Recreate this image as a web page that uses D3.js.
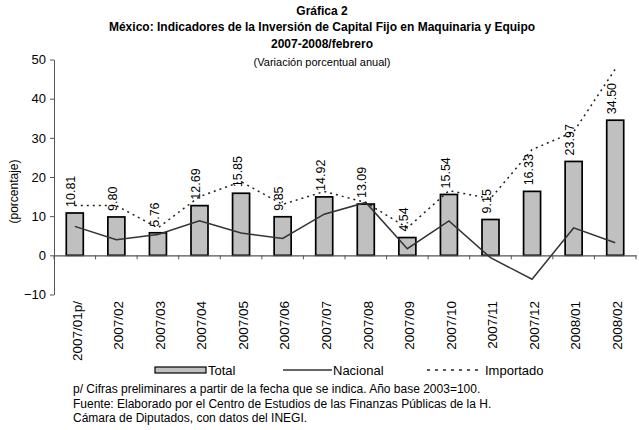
<!DOCTYPE html>
<html>
<head>
<meta charset="utf-8">
<script src="https://cdn.jsdelivr.net/npm/d3@7"></script>
<style>
  body { margin: 0; background: #fff; }
  svg { font-family: "Liberation Sans", Arial, sans-serif; }
</style>
</head>
<body>
<div id="chart"></div>
<script>
// categories + series
const categories = ['2007/01p/', '2007/02', '2007/03', '2007/04', '2007/05', '2007/06', '2007/07',
    '2007/08', '2007/09', '2007/10', '2007/11', '2007/12', '2008/01', '2008/02'];
const total = [10.81, 9.80, 5.76, 12.69, 15.85, 9.85, 14.92, 13.09, 4.54, 15.54, 9.15, 16.33, 23.97, 34.50];
const nacional = [7.4, 4.0, 5.3, 8.8, 5.7, 4.3, 10.5, 13.5, 1.7, 8.8, -0.6, -6.1, 7.0, 3.2];
const importado = [12.7, 12.7, 7.0, 15.0, 18.8, 13.0, 16.3, 13.5, 7.0, 16.5, 14.5, 27.0, 31.5, 47.5];
const yTicks = [-10, 0, 10, 20, 30, 40, 50];

const width = 639, height = 430;
const svg = d3.select('#chart').append('svg')
    .attr('width', width)
    .attr('height', height);

// scales
const x = d3.scaleBand().domain(categories).range([54, 636]).padding(0);
const y = d3.scaleLinear().domain([-10, 50]).range([294.5, 59.5]);
const cx = d => x(d) + x.bandwidth() / 2;
const barW = 17;

// titles
const titles = [
    { t: 'Gráfica 2', y: 15, size: 12, w: 'bold' },
    { t: 'México: Indicadores de la Inversión de Capital Fijo en Maquinaria y Equipo', y: 31, size: 12, w: 'bold' },
    { t: '2007-2008/febrero', y: 48, size: 12, w: 'bold' },
    { t: '(Variación porcentual anual)', y: 66, size: 11, w: 'normal' }
];
svg.selectAll('text.title').data(titles).enter().append('text')
    .attr('class', 'title')
    .attr('x', 322)
    .attr('y', d => d.y)
    .attr('text-anchor', 'middle')
    .attr('font-size', d => d.size + 'px')
    .attr('font-weight', d => d.w)
    .text(d => d.t);

// y axis
const yAxis = svg.append('g')
    .attr('transform', 'translate(54,0)')
    .call(d3.axisLeft(y).tickValues(yTicks).tickSize(4).tickSizeOuter(0).tickPadding(4));
yAxis.select('.domain').attr('stroke', '#555');
yAxis.selectAll('.tick line').attr('stroke', '#555');
yAxis.selectAll('.tick text').attr('font-size', '13px').attr('fill', '#000')
    .attr('font-family', '"Liberation Sans", Arial, sans-serif');

svg.append('text')
    .attr('transform', `translate(14,${y(16.3)}) rotate(-90)`)
    .attr('text-anchor', 'middle')
    .attr('dy', '0.35em')
    .attr('font-size', '12px')
    .text('(porcentaje)');

// bars
svg.selectAll('rect.bar').data(total).enter().append('rect')
    .attr('class', 'bar')
    .attr('x', (d, i) => cx(categories[i]) - barW / 2)
    .attr('y', d => y(d))
    .attr('width', barW)
    .attr('height', d => y(0) - y(d))
    .attr('fill', '#c0c0c0')
    .attr('stroke', '#000')
    .attr('stroke-width', 1.7);

// x axis line at zero with ticks at band edges
const xAxis = svg.append('g')
    .attr('transform', `translate(0,${y(0)})`)
    .call(d3.axisBottom(x).tickSize(0).tickFormat(''));
xAxis.select('.domain').attr('stroke', '#555').attr('stroke-width', 1.2);
const edges = categories.map(c => x(c)).concat([x.range()[1]]);
xAxis.selectAll('line.edge').data(edges).enter().append('line')
    .attr('class', 'edge')
    .attr('x1', d => d).attr('x2', d => d)
    .attr('y1', 0).attr('y2', 4)
    .attr('stroke', '#555');

// lines
const line = d3.line()
    .x((d, i) => cx(categories[i]))
    .y(d => y(d));

svg.append('path')
    .datum(nacional)
    .attr('d', line)
    .attr('fill', 'none')
    .attr('stroke', '#333')
    .attr('stroke-width', 1.5);

svg.append('path')
    .datum(importado)
    .attr('d', line)
    .attr('fill', 'none')
    .attr('stroke', '#222')
    .attr('stroke-width', 1.5)
    .attr('stroke-dasharray', '2,4');

// value labels above bars (rotated)
svg.selectAll('text.val').data(total).enter().append('text')
    .attr('class', 'val')
    .attr('transform', (d, i) => `translate(${cx(categories[i])},${y(d) - 6}) rotate(-90)`)
    .attr('dy', '0.05em')
    .attr('font-size', '12.5px')
    .text(d => d.toFixed(2));

// category labels at bottom
svg.selectAll('text.cat').data(categories).enter().append('text')
    .attr('class', 'cat')
    .attr('transform', d => `translate(${cx(d)},301) rotate(-90)`)
    .attr('text-anchor', 'end')
    .attr('dy', '0.5em')
    .attr('font-size', '13.5px')
    .text(d => d);

// legend
const leg = svg.append('g').attr('transform', 'translate(0,370)');
leg.append('rect')
    .attr('x', 155).attr('y', -3).attr('width', 51).attr('height', 6)
    .attr('fill', '#c0c0c0').attr('stroke', '#000').attr('stroke-width', 1.2);
leg.append('text').attr('x', 208).attr('dy', '0.35em').attr('font-size', '13px').text('Total');
leg.append('line')
    .attr('x1', 283).attr('x2', 332).attr('y1', 0).attr('y2', 0)
    .attr('stroke', '#333').attr('stroke-width', 1.5);
leg.append('text').attr('x', 333).attr('dy', '0.35em').attr('font-size', '13px').text('Nacional');
leg.append('line')
    .attr('x1', 427).attr('x2', 483).attr('y1', 0).attr('y2', 0)
    .attr('stroke', '#222').attr('stroke-width', 1.5).attr('stroke-dasharray', '3,5');
leg.append('text').attr('x', 485).attr('dy', '0.35em').attr('font-size', '13px').text('Importado');

// footnotes
const notes = [
    'p/ Cifras preliminares a partir de la fecha que se indica. Año base 2003=100.',
    'Fuente: Elaborado por el Centro de Estudios de las Finanzas Públicas de la H.',
    'Cámara de Diputados, con datos del INEGI.'
];
svg.selectAll('text.note').data(notes).enter().append('text')
    .attr('class', 'note')
    .attr('x', 73)
    .attr('y', (d, i) => 389 + i * 14.5)
    .attr('dy', '0.35em')
    .attr('font-size', '12px')
    .text(d => d);
</script>
</body>
</html>
